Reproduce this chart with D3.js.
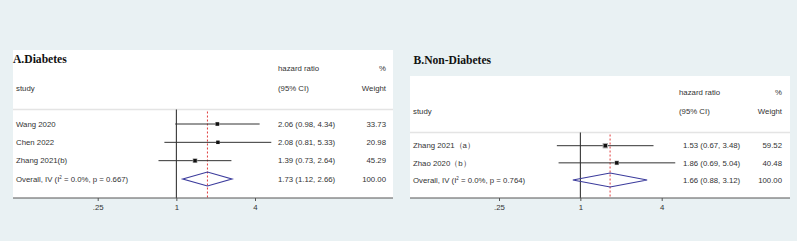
<!DOCTYPE html>
<html>
<head>
<meta charset="utf-8">
<script src="https://cdn.jsdelivr.net/npm/d3@7"></script>
<style>
    body { margin: 0; background: #e9f1f3; }
    svg { display: block; }
    text { font-family: "Liberation Sans", Arial, sans-serif; fill: #333; }
    .title { font-family: "Liberation Serif", "Times New Roman", serif; font-weight: bold; fill: #111; }
</style>
</head>
<body>
<div id="chart"></div>
<script>

// forest plots, diabetes vs non-diabetes

// panel A
let studiesA = ['Wang 2020', 'Chen 2022', 'Zhang 2021(b)'];
let hrA = [2.06, 2.08, 1.39];
let lowA = [0.98, 0.81, 0.73];
let highA = [4.34, 5.33, 2.64];
let weightA = [33.73, 20.98, 45.29];
let overallA = [1.73, 1.12, 2.66];
let statsA = ['0.0%', '0.667'];

// panel B
let studiesB = ['Zhang 2021（a）', 'Zhao 2020（b）'];
let hrB = [1.53, 1.86];
let lowB = [0.67, 0.69];
let highB = [3.48, 5.04];
let weightB = [59.52, 40.48];
let overallB = [1.66, 0.88, 3.12];
let statsB = ['0.0%', '0.764'];

let tickValues = [0.25, 1, 4];
let tickLabels = ['.25', '1', '4'];

let svg = d3.select('#chart').append('svg')
    .attr('width', 797)
    .attr('height', 241);

function drawPanel(p) {

    let g = svg.append('g');

    // white box
    g.append('rect')
        .attr('x', p.left)
        .attr('y', p.boxTop)
        .attr('width', p.right - p.left)
        .attr('height', p.axisY - p.boxTop)
        .attr('fill', 'white');

    g.append('text')
        .attr('class', 'title')
        .attr('x', p.left + p.titleDx)
        .attr('y', p.titleY)
        .style('font-size', '11.6px')
        .text(p.title);

    let fs = '7.8px';

    // header
    g.append('text').attr('x', p.estX).attr('y', p.head1).attr('dy', '0.35em').style('font-size', fs).text('hazard ratio');
    g.append('text').attr('x', p.weightX).attr('y', p.head1).attr('dy', '0.35em').attr('text-anchor', 'end').style('font-size', fs).text('%');
    g.append('text').attr('x', p.left + 3).attr('y', p.head2).attr('dy', '0.35em').style('font-size', fs).text('study');
    g.append('text').attr('x', p.estX).attr('y', p.head2).attr('dy', '0.35em').style('font-size', fs).text('(95% CI)');
    g.append('text').attr('x', p.weightX).attr('y', p.head2).attr('dy', '0.35em').attr('text-anchor', 'end').style('font-size', fs).text('Weight');

    // separator
    g.append('line')
        .attr('x1', p.left).attr('x2', p.right)
        .attr('y1', p.sepY).attr('y2', p.sepY)
        .attr('stroke', '#e4e4e4')
        .attr('stroke-width', 1.5);

    let xScale = d3.scaleLog().base(2)
        .domain([0.25, 4])
        .range(p.xRange);

    let rows = p.studies.concat(['overall']);
    let yScale = d3.scalePoint()
        .domain(rows)
        .range(p.yRange);

    let data = p.studies.map((s, i) => ({study: s, hr: p.hr[i], low: p.low[i], high: p.high[i], weight: p.weight[i]}));

    // null line
    g.append('line')
        .attr('x1', xScale(1)).attr('x2', xScale(1))
        .attr('y1', p.sepY).attr('y2', p.axisY)
        .attr('stroke', '#222')
        .attr('stroke-width', 1);

    // overall dashed line
    g.append('line')
        .attr('x1', xScale(p.overall[0])).attr('x2', xScale(p.overall[0]))
        .attr('y1', p.sepY + 2).attr('y2', p.axisY)
        .attr('stroke', '#e03c3c')
        .attr('stroke-width', 1)
        .attr('stroke-dasharray', '2,2');

    // CI lines
    g.selectAll('.ci')
        .data(data)
        .enter()
        .append('line')
        .attr('class', 'ci')
        .attr('x1', d => xScale(d.low))
        .attr('x2', d => xScale(d.high))
        .attr('y1', d => yScale(d.study))
        .attr('y2', d => yScale(d.study))
        .attr('stroke', '#333')
        .attr('stroke-width', 1);

    // weight squares
    g.selectAll('.box')
        .data(data)
        .enter()
        .append('rect')
        .attr('class', 'box')
        .attr('x', d => xScale(d.hr) - 0.35 * Math.sqrt(d.weight))
        .attr('y', d => yScale(d.study) - 0.35 * Math.sqrt(d.weight))
        .attr('width', d => 0.7 * Math.sqrt(d.weight))
        .attr('height', d => 0.7 * Math.sqrt(d.weight))
        .attr('fill', '#aaa');

    // point estimates
    g.selectAll('.dot')
        .data(data)
        .enter()
        .append('rect')
        .attr('class', 'dot')
        .attr('x', d => xScale(d.hr) - 1.7)
        .attr('y', d => yScale(d.study) - 1.7)
        .attr('width', 3.4)
        .attr('height', 3.4)
        .attr('fill', '#111');

    // diamond
    let oy = yScale('overall');
    let o = p.overall;
    g.append('path')
        .attr('d', `M${xScale(o[1])},${oy} L${xScale(o[0])},${oy - 7} L${xScale(o[2])},${oy} L${xScale(o[0])},${oy + 7} Z`)
        .attr('fill', 'none')
        .attr('stroke', '#3b3b9c')
        .attr('stroke-width', 1.2);

    // row text
    g.selectAll('.lab')
        .data(data)
        .enter()
        .append('text')
        .attr('class', 'lab')
        .attr('x', p.left + 3)
        .attr('y', d => yScale(d.study))
        .attr('dy', '0.35em')
        .style('font-size', fs)
        .text(d => d.study);

    g.selectAll('.est')
        .data(data)
        .enter()
        .append('text')
        .attr('class', 'est')
        .attr('x', p.rowEstX)
        .attr('y', d => yScale(d.study))
        .attr('dy', '0.35em')
        .style('font-size', fs)
        .text(d => `${d.hr.toFixed(2)} (${d.low.toFixed(2)}, ${d.high.toFixed(2)})`);

    g.selectAll('.wt')
        .data(data)
        .enter()
        .append('text')
        .attr('class', 'wt')
        .attr('x', p.weightX)
        .attr('y', d => yScale(d.study))
        .attr('dy', '0.35em')
        .attr('text-anchor', 'end')
        .style('font-size', fs)
        .text(d => d.weight.toFixed(2));

    // overall row text
    let ot = g.append('text')
        .attr('x', p.left + 3)
        .attr('y', oy)
        .attr('dy', '0.35em')
        .style('font-size', fs);
    ot.append('tspan').text('Overall, IV (I');
    ot.append('tspan').attr('dy', '-3').style('font-size', '4.5px').text('2');
    ot.append('tspan').attr('dy', '3').text(` = ${p.stats[0]}, p = ${p.stats[1]})`);

    g.append('text')
        .attr('x', p.rowEstX)
        .attr('y', oy)
        .attr('dy', '0.35em')
        .style('font-size', fs)
        .text(`${o[0].toFixed(2)} (${o[1].toFixed(2)}, ${o[2].toFixed(2)})`);

    g.append('text')
        .attr('x', p.weightX)
        .attr('y', oy)
        .attr('dy', '0.35em')
        .attr('text-anchor', 'end')
        .style('font-size', fs)
        .text('100.00');

    // axis
    g.append('line')
        .attr('x1', p.left).attr('x2', p.right)
        .attr('y1', p.axisY).attr('y2', p.axisY)
        .attr('stroke', '#555')
        .attr('stroke-width', 1);

    let xAxis = d3.axisBottom(xScale)
        .tickValues(tickValues)
        .tickFormat((d, i) => tickLabels[i])
        .tickSize(3)
        .tickPadding(3);

    let axisGroup = g.append('g')
        .attr('transform', 'translate(0,' + p.axisY + ')')
        .call(xAxis);
    axisGroup.select('.domain').remove();
    axisGroup.selectAll('line').attr('stroke', '#555');
    axisGroup.selectAll('text')
        .style('font-size', fs)
        .style('font-family', '"Liberation Sans", Arial, sans-serif')
        .attr('fill', '#333');
}

drawPanel({
    title: 'A.Diabetes', left: 13, right: 393, boxTop: 50, titleDx: 0, titleY: 62.5,
    head1: 68.5, head2: 88, sepY: 109.5, axisY: 198,
    estX: 278, rowEstX: 278, weightX: 386,
    xRange: [97.7, 255], yRange: [124, 179],
    studies: studiesA, hr: hrA, low: lowA, high: highA, weight: weightA,
    overall: overallA, stats: statsA
});

drawPanel({
    title: 'B.Non-Diabetes', left: 410, right: 790, boxTop: 76, titleDx: 3.5, titleY: 63.5,
    head1: 92, head2: 111, sepY: 132.5, axisY: 198,
    estX: 679, rowEstX: 683, weightX: 782,
    xRange: [499, 661.7], yRange: [145.7, 180],
    studies: studiesB, hr: hrB, low: lowB, high: highB, weight: weightB,
    overall: overallB, stats: statsB
});

</script>
</body>
</html>
